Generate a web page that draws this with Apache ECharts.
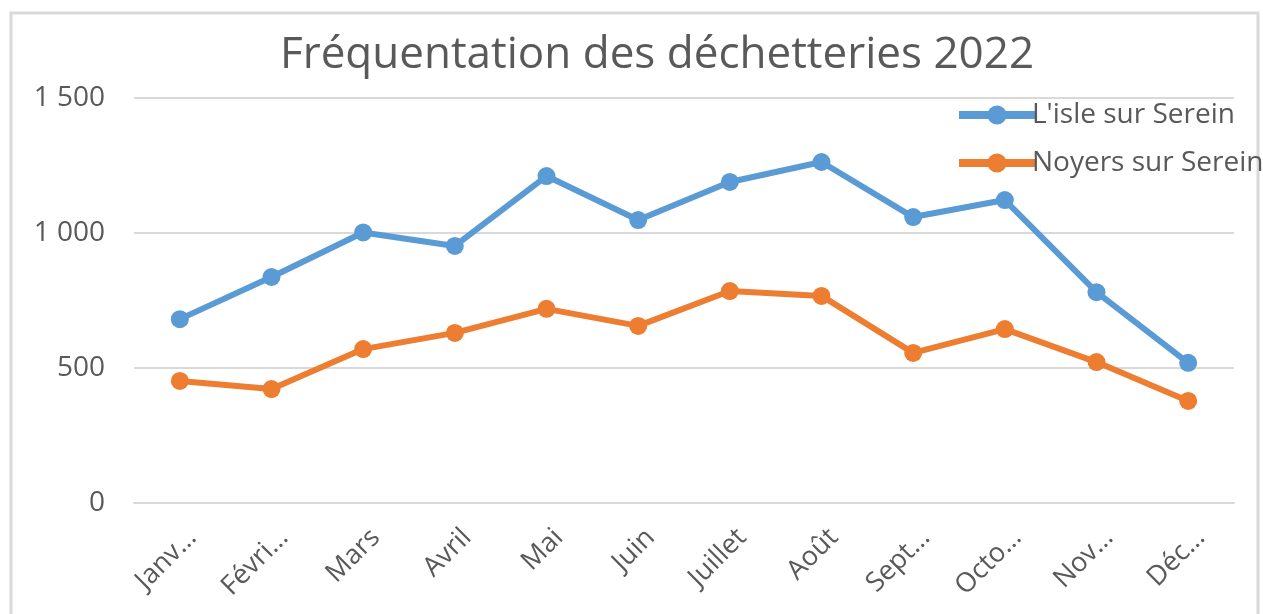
<!DOCTYPE html>
<html><head><meta charset="utf-8">
<script src="https://cdn.jsdelivr.net/npm/echarts@6/dist/echarts.min.js"></script>
<style>html,body{margin:0;padding:0;background:#fff}#c{width:1263px;height:614px}</style>
</head><body><div id="c"></div>
<script>
const categories = ["Janv…","Févri…","Mars","Avril","Mai","Juin","Juillet","Août","Sept…","Octo…","Nov…","Déc…"];
const lisle = [681, 837, 1002, 952, 1211, 1048, 1189, 1263, 1059, 1122, 781, 519];
const noyers = [452, 422, 570, 630, 719, 656, 785, 767, 556, 644, 522, 378];
const seriesNames = ["L'isle sur Serein","Noyers sur Serein"];
const yTicks = [0, 500, 1000, 1500];

const font = "'Open Sans', 'Noto Sans', sans-serif";
const chart = echarts.init(document.getElementById('c'));
chart.setOption({
  animation: false,
  backgroundColor: '#fff',
  title: {
    text: 'Fréquentation des déchetteries 2022',
    left: 652, top: 28, textAlign: 'center',
    textStyle: { fontFamily: font, fontSize: 44, fontWeight: 'normal', color: '#595959' }
  },
  graphic: [{
    type: 'rect', silent: true, z: -1,
    shape: { x: 11, y: 13, width: 1247, height: 700 },
    style: { fill: 'none', stroke: '#d9d9d9', lineWidth: 3 }
  }],
  legend: {
    orient: 'vertical', left: 950, top: 96, itemWidth: 76, itemHeight: 24, itemGap: 20,
    textStyle: { fontFamily: font, fontSize: 28, color: '#595959', padding: [0, 0, 0, -8] },
    data: seriesNames.map(n => ({ name: n, lineStyle: { width: 8 } }))
  },
  grid: { left: 134, right: 29, top: 98, bottom: 111, containLabel: false },
  xAxis: {
    type: 'category', data: categories, boundaryGap: true,
    axisLine: { lineStyle: { color: '#d9d9d9', width: 2 } },
    axisTick: { show: false },
    axisLabel: { rotate: 45, fontFamily: font, fontSize: 27, color: '#595959', margin: 18, interval: 0,
      verticalAlign: 'top', padding: [4, 0, 0, 0] }
  },
  yAxis: {
    type: 'value', min: yTicks[0], max: yTicks[yTicks.length-1], interval: 500,
    axisLine: { show: false }, axisTick: { show: false },
    splitLine: { lineStyle: { color: '#d9d9d9', width: 2 } },
    axisLabel: { fontFamily: font, fontSize: 28, color: '#595959', margin: 29,
      formatter: v => String(v).replace(/\B(?=(\d{3})+(?!\d))/g, ' ') }
  },
  series: [
    { name: seriesNames[0], type: 'line', data: lisle, color: '#5b9bd5',
      lineStyle: { width: 6 }, symbol: 'circle', symbolSize: 18, itemStyle: { color: '#5b9bd5' } },
    { name: seriesNames[1], type: 'line', data: noyers, color: '#ed7d31',
      lineStyle: { width: 6 }, symbol: 'circle', symbolSize: 18, itemStyle: { color: '#ed7d31' } }
  ]
});
</script></body></html>
